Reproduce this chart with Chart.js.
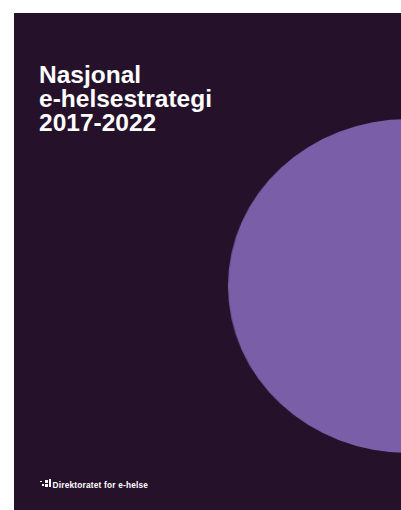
<!DOCTYPE html>
<html>
<head>
<meta charset="utf-8">
<script src="https://cdn.jsdelivr.net/npm/chart.js@4"></script>
<style>
  html, body { margin: 0; padding: 0; background: #ffffff; width: 401px; height: 510px; overflow: hidden; }
  #page { position: absolute; left: 14px; top: 13px; width: 387px; height: 497px; background: #26112a; overflow: hidden; }
  #chartBox { position: absolute; left: 227px; top: 105.5px; width: 334px; height: 334px; transform: scaleX(1.078); transform-origin: 50% 50%; }
  #title { position: absolute; left: 25px; top: 49.5px; margin: 0; color: #ffffff; font-family: "Liberation Sans", Arial, sans-serif; font-weight: bold; font-size: 24.5px; line-height: 24px; }
  #logo { position: absolute; left: 25px; top: 466px; height: 12px; }
  #logo .sq { position: absolute; background: #ffffff; }
  #logoText { position: absolute; left: 38.5px; top: 466.5px; color: #ffffff; font-family: "Liberation Sans", Arial, sans-serif; font-weight: bold; font-size: 8.3px; line-height: 10px; letter-spacing: 0.2px; white-space: nowrap; }
</style>
</head>
<body>
<div id="page">
  <div id="chartBox"><canvas id="c"></canvas></div>
  <h1 id="title">Nasjonal<br>e-helsestrategi<br>2017-2022</h1>
  <div id="logo">
    <div class="sq" style="left:1px;top:1.5px;width:1.5px;height:1.5px;"></div>
    <div class="sq" style="left:3px;top:5px;width:2px;height:2px;"></div>
    <div class="sq" style="left:6px;top:1px;width:3px;height:3px;"></div>
    <div class="sq" style="left:6px;top:5px;width:3px;height:3px;"></div>
    <div class="sq" style="left:10px;top:0px;width:2px;height:8px;"></div>
  </div>
  <div id="logoText">Direktoratet for e-helse</div>
</div>
<script>
const categories = ["e-helse"];
const values = [1];
const colors = ["#7a5fa8"];

new Chart(document.getElementById('c'), {
  type: 'pie',
  data: {
    labels: categories,
    datasets: [{ data: values, backgroundColor: colors, borderWidth: 0 }]
  },
  options: {
    responsive: true,
    maintainAspectRatio: false,
    animation: false,
    layout: { padding: 0 },
    plugins: { legend: { display: false }, tooltip: { enabled: false }, title: { display: false } }
  }
});
</script>
</body>
</html>
